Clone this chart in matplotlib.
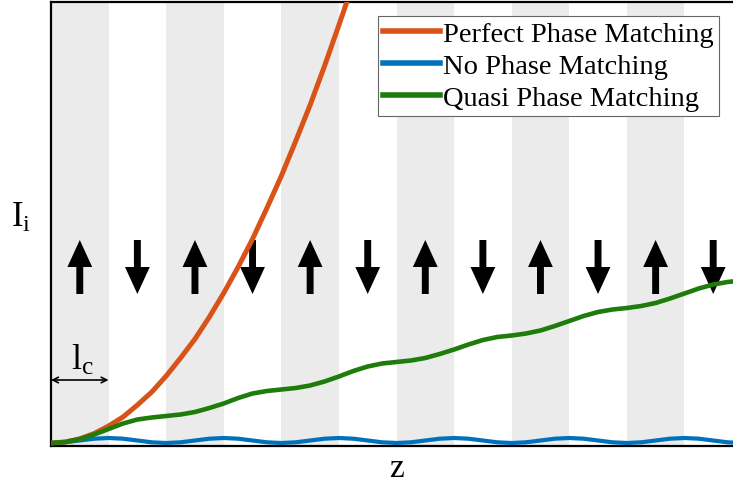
import numpy as np
import matplotlib.pyplot as plt

plt.rcParams['font.family'] = ['Liberation Serif', 'DejaVu Serif']
plt.rcParams['mathtext.fontset'] = 'custom'
plt.rcParams['mathtext.rm'] = 'Liberation Serif'
plt.rcParams['mathtext.it'] = 'Liberation Serif:italic'

# number of coherence lengths shown and the poling direction of each domain
n_domains = 12
poling = ['up', 'down'] * 6

# intensities sampled every quarter coherence length
z_perfect = np.arange(0, 5.26, 0.25)
I_perfect = [0.0, 0.1, 0.42, 0.95, 1.7, 2.6, 3.8, 5.1, 6.7, 8.5, 10.4, 12.6,
             15.0, 17.6, 20.4, 23.5, 26.7, 30.2, 33.8, 37.7, 41.8, 46.0]

z_full = np.arange(0, 12.01, 0.25)
I_none = [0.0, 0.07, 0.25, 0.43, 0.5, 0.43, 0.25, 0.07,
          0.0, 0.07, 0.25, 0.43, 0.5, 0.43, 0.25, 0.07,
          0.0, 0.07, 0.25, 0.43, 0.5, 0.43, 0.25, 0.07,
          0.0, 0.07, 0.25, 0.43, 0.5, 0.43, 0.25, 0.07,
          0.0, 0.07, 0.25, 0.43, 0.5, 0.43, 0.25, 0.07,
          0.0, 0.07, 0.25, 0.43, 0.5, 0.43, 0.25, 0.07, 0.0]
I_quasi = [0.0, 0.1, 0.4, 0.85, 1.4, 1.95, 2.35, 2.55,
           2.7, 2.85, 3.1, 3.5, 3.95, 4.5, 4.95, 5.2,
           5.35, 5.5, 5.75, 6.15, 6.65, 7.2, 7.65, 7.95,
           8.1, 8.25, 8.5, 8.9, 9.35, 9.85, 10.3, 10.6,
           10.75, 10.95, 11.25, 11.7, 12.2, 12.7, 13.1, 13.35,
           13.5, 13.7, 14.0, 14.45, 14.95, 15.45, 15.85, 16.1, 16.25]

labels = ['Perfect Phase Matching', 'No Phase Matching', 'Quasi Phase Matching']
colors = ['#D95319', '#0072BD', '#1E7D0A']

fig = plt.figure(figsize=(7.33, 4.89), dpi=100)
ax = fig.add_axes([51 / 733, 42.5 / 489, 691 / 733, 443.5 / 489])

# alternating domains
for k in range(0, n_domains, 2):
    ax.axvspan(k, k + 1, color='#ebebeb', lw=0, zorder=0)

# poling arrows in the middle of each domain
y_lo, y_hi = 14.9, 20.3
for k, d in enumerate(poling):
    x = k + 0.5
    if d == 'up':
        y0, dy = y_lo, y_hi - y_lo
    else:
        y0, dy = y_hi, y_lo - y_hi
    ax.arrow(x, y0, 0, dy, width=0.12, head_width=0.43, head_length=2.7,
             length_includes_head=True, fc='k', ec='none', zorder=2)

l_none, = ax.plot(z_full, I_none, color=colors[1], lw=3.0, zorder=3)
l_perf, = ax.plot(z_perfect, I_perfect, color=colors[0], lw=3.6, zorder=4)
l_quasi, = ax.plot(z_full, I_quasi, color=colors[2], lw=3.3, zorder=5)

# coherence length marker
ax.annotate('', xy=(0, 6.3), xytext=(1, 6.3),
            arrowprops=dict(arrowstyle='<->', lw=1.2, color='k',
                            shrinkA=0, shrinkB=0), zorder=6)
ax.text(0.55, 6.6, r'$\mathrm{l_c}$', fontsize=26, ha='center', va='bottom')

ax.set_xlim(0, n_domains)
ax.set_ylim(-0.25, 44.1)
ax.set_xticks([])
ax.set_yticks([])
for side in ['left', 'bottom', 'top']:
    ax.spines[side].set_linewidth(1.6)
ax.spines['right'].set_visible(False)

ax.set_xlabel('z', fontsize=24, labelpad=5)
ax.set_ylabel(r'$\mathrm{I_i}$', fontsize=25, rotation=0, va='center')
ax.yaxis.set_label_coords(-0.043, 0.515)

leg = ax.legend([l_perf, l_none, l_quasi], labels, loc='upper right',
                bbox_to_anchor=(0.9667, 0.969), borderaxespad=0,
                fontsize=20.5, fancybox=False, framealpha=1, edgecolor='0.4',
                handlelength=2.0, handletextpad=0.12, borderpad=0.18,
                labelspacing=0.22)
leg.get_frame().set_linewidth(0.8)
for h in leg.get_lines():
    h.set_linewidth(4)
leg.set_zorder(10)

fig.savefig('out.png', dpi=100)
